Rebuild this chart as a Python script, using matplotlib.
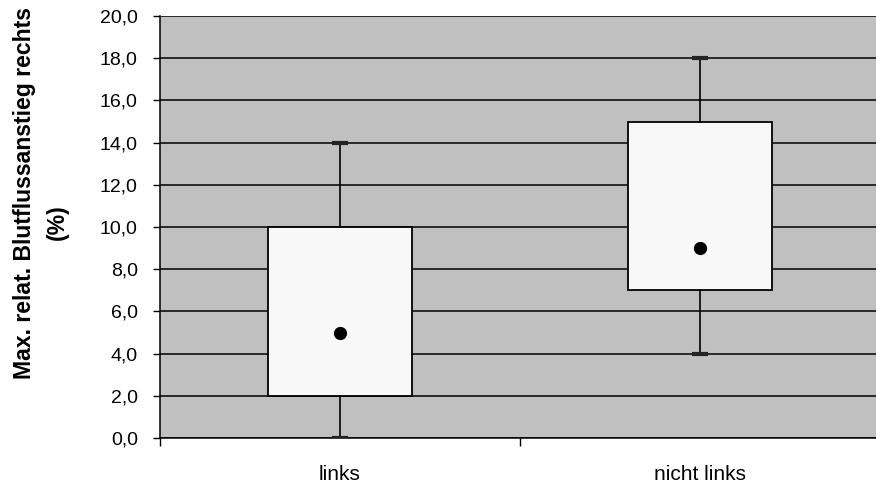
import matplotlib
matplotlib.use("Agg")
import matplotlib.pyplot as plt
from matplotlib.ticker import FuncFormatter

# Gruppen und Kennwerte der Boxplots (in %)
groups = ["links", "nicht links"]
minimum = [0.0, 4.0]
q1 = [2.0, 7.0]
median = [5.0, 9.0]
q3 = [10.0, 15.0]
maximum = [14.0, 18.0]

plt.rcParams['font.family'] = ['Liberation Sans', 'DejaVu Sans']

W, H = 876, 487
fig = plt.figure(figsize=(W / 100, H / 100), dpi=100)
ax = fig.add_axes([160 / W, 1 - 438 / H, (880 - 160) / W, (438 - 16) / H])
ax.set_facecolor('#c0c0c0')

stats = []
for i, g in enumerate(groups):
    stats.append(dict(label=g, whislo=minimum[i], q1=q1[i], med=median[i],
                      q3=q3[i], whishi=maximum[i], fliers=[]))

positions = [0.5, 1.5]
ax.bxp(stats, positions=positions, widths=0.40, patch_artist=True,
       showfliers=False, capwidths=0.036,
       boxprops=dict(facecolor='#f8f8f8', edgecolor='black', linewidth=1.3),
       whiskerprops=dict(color='black', linewidth=1.2),
       capprops=dict(color='#222222', linewidth=3.0),
       medianprops=dict(linewidth=0), zorder=3)
ax.plot(positions, median, 'o', color='black', markersize=8.5, zorder=4)

ax.set_xlim(0, 2)
ax.set_ylim(0, 20)
ax.set_yticks(range(0, 21, 2))
ax.yaxis.set_major_formatter(FuncFormatter(lambda v, p: f"{v:.1f}".replace('.', ',')))
ax.set_xticks([0, 1, 2])
ax.set_xticklabels([])
ax.set_xticks(positions, minor=True)
ax.set_xticklabels(groups, minor=True)
ax.tick_params(axis='x', which='minor', length=0, pad=19.5, labelsize=15)
ax.tick_params(axis='x', which='major', length=6, width=1.0, direction='out')
ax.tick_params(axis='y', length=5, width=1.0, direction='out', labelsize=14, pad=11)

ax.grid(axis='y', color='black', linewidth=1.1, zorder=1)
ax.set_axisbelow(True)
for s in ['top', 'right']:
    ax.spines[s].set_visible(False)
for s in ['left', 'bottom']:
    ax.spines[s].set_linewidth(1.1)

# Achsentitel, zweizeilig
fig.text(25 / W, 1 - 193 / H, "Max. relat. Blutflussanstieg rechts", rotation=90,
         ha='center', va='center', fontsize=16.6, fontweight='bold')
fig.text(57 / W, 1 - 222 / H, "(%)", rotation=90,
         ha='center', va='center', fontsize=16.6, fontweight='bold')

fig.savefig("out.png", dpi=100)
